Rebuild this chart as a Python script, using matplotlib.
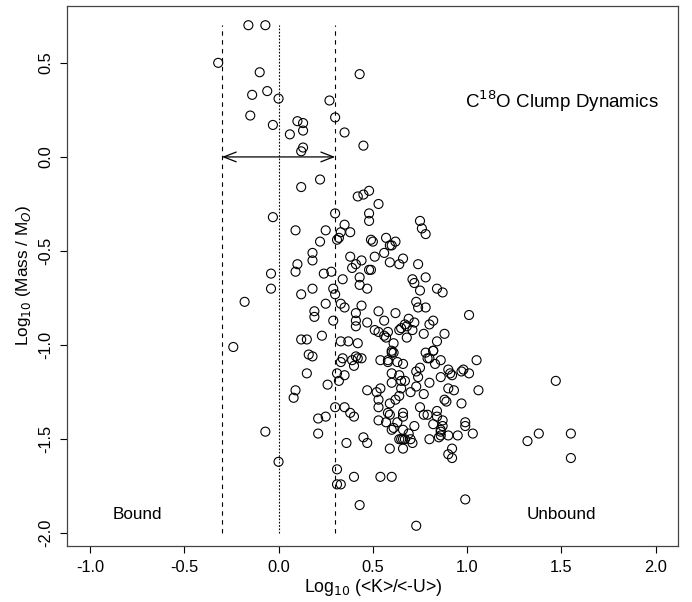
import numpy as np
import matplotlib
matplotlib.use('Agg')
import matplotlib.pyplot as plt

plt.rcParams['font.family'] = ['Liberation Sans', 'DejaVu Sans']

# log10(<K>/<-U>) and log10(mass) for each clump
logKU = [
    -0.16, -0.07, -0.32, -0.10, 0.43, -0.14, -0.06, 0.00, 0.27, -0.15,
    0.30, -0.03, 0.10, 0.13, 0.13, 0.06, 0.35, 0.13, 0.12, 0.45,
    0.22, 0.12, 0.48, 0.45, 0.42, 0.53, 0.30, 0.48, 0.48, -0.03,
    0.35, 0.09, 0.25, 0.38, 0.33, 0.32, 0.31, 0.22, 0.49, 0.50,
    0.57, 0.62, 0.59, 0.60, 0.18, 0.18, 0.38, 0.51, 0.56, 0.41,
    0.44, 0.39, 0.48, 0.49, 0.59, 0.64, 0.10, 0.09, -0.04, 0.24,
    0.28, 0.34, 0.43, 0.43, 0.47, -0.04, 0.18, 0.29, 0.30, 0.12,
    -0.18, 0.25, 0.33, 0.35, 0.44, 0.53, 0.62, 0.19, 0.19, 0.41,
    0.41, 0.29, 0.47, 0.56, 0.41, 0.51, 0.53, 0.58, 0.56, 0.57,
    0.64, 0.23, 0.12, 0.15, 0.33, 0.37, 0.42, 0.61, -0.24, 0.60,
    0.75, 0.76, 0.78, 0.66, 0.74, 0.71, 0.72, 0.78, 0.75, 0.84,
    0.87, 0.73, 0.74, 0.78, 1.01, 0.69, 0.82, 0.80, 0.72, 0.67,
    0.68, 0.65, 0.71, 0.77, 0.88, 0.84, 0.68, 0.82,
    0.16, 0.18, 0.33, 0.34, 0.39, 0.41, 0.42, 0.44, 0.40, 0.15,
    0.31, 0.35, 0.32, 0.26, 0.09, 0.08, 0.47, 0.54, 0.52, 0.53,
    0.60, 0.60, 0.54, 0.58, 0.58, 0.60, 0.61, 0.30, 0.35, 0.38,
    0.40, 0.21, 0.25, 0.53, 0.58, 0.59, 0.59, 0.53, 0.57, 0.63,
    0.60, 0.61, -0.07, 0.21, 0.36, 0.45, 0.47, 0.59, 0.64, 0.00,
    0.31, 0.40, 0.54, 0.60, 0.31, 0.33, 0.43,
    0.63, 0.66, 0.78, 0.82, 0.79, 0.80, 0.83, 0.86, 1.05, 0.75,
    0.73, 0.90, 0.91, 0.92, 0.97, 0.98, 1.01, 0.64, 0.65, 0.67,
    0.74, 0.86, 0.80, 0.73, 0.90, 0.93, 1.06, 0.65, 0.70, 0.77,
    0.64, 0.62, 0.88, 0.89, 0.97, 0.75, 0.77, 0.79, 0.84, 0.84,
    0.87, 0.66, 0.66, 0.82, 0.87, 0.86, 0.86, 0.86, 0.99, 0.99,
    1.03, 0.95, 0.90, 0.85, 0.80, 0.72, 0.66, 0.69, 0.65, 0.66,
    0.67, 0.70, 0.71, 0.66, 0.92, 0.90, 0.92, 1.32, 0.99, 0.73,
    1.47, 1.38, 1.55, 1.55,
]
logM = [
    0.70, 0.70, 0.50, 0.45, 0.44, 0.33, 0.35, 0.31, 0.30, 0.22,
    0.21, 0.17, 0.19, 0.18, 0.14, 0.12, 0.13, 0.05, 0.03, 0.06,
    -0.12, -0.16, -0.18, -0.20, -0.21, -0.25, -0.30, -0.30, -0.34, -0.32,
    -0.36, -0.39, -0.39, -0.40, -0.40, -0.43, -0.44, -0.45, -0.44, -0.45,
    -0.43, -0.45, -0.47, -0.47, -0.51, -0.55, -0.53, -0.53, -0.51, -0.57,
    -0.55, -0.59, -0.60, -0.60, -0.56, -0.57, -0.57, -0.61, -0.62, -0.62,
    -0.61, -0.65, -0.64, -0.68, -0.70, -0.70, -0.70, -0.70, -0.73, -0.73,
    -0.77, -0.78, -0.78, -0.80, -0.79, -0.82, -0.83, -0.82, -0.85, -0.83,
    -0.87, -0.87, -0.88, -0.87, -0.90, -0.92, -0.93, -0.93, -0.95, -0.96,
    -0.92, -0.95, -0.97, -0.97, -0.98, -0.98, -0.99, -0.99, -1.01, -1.03,
    -0.34, -0.38, -0.41, -0.54, -0.57, -0.65, -0.67, -0.64, -0.71, -0.70,
    -0.72, -0.77, -0.80, -0.80, -0.84, -0.86, -0.87, -0.89, -0.88, -0.89,
    -0.90, -0.91, -0.92, -0.94, -0.94, -0.98, -0.96, -1.03,
    -1.05, -1.06, -1.09, -1.07, -1.08, -1.06, -1.07, -1.07, -1.11, -1.15,
    -1.15, -1.16, -1.19, -1.21, -1.24, -1.28, -1.24, -1.23, -1.25, -1.29,
    -1.20, -1.15, -1.08, -1.09, -1.08, -1.04, -1.04, -1.33, -1.33, -1.36,
    -1.38, -1.39, -1.38, -1.33, -1.36, -1.37, -1.31, -1.40, -1.41, -1.41,
    -1.45, -1.44, -1.46, -1.47, -1.52, -1.49, -1.52, -1.55, -1.50, -1.62,
    -1.66, -1.70, -1.70, -1.70, -1.74, -1.74, -1.85,
    -1.09, -1.10, -1.04, -1.03, -1.07, -1.07, -1.10, -1.08, -1.08, -1.12,
    -1.14, -1.13, -1.15, -1.16, -1.14, -1.13, -1.15, -1.16, -1.19, -1.19,
    -1.17, -1.17, -1.20, -1.22, -1.23, -1.24, -1.24, -1.23, -1.25, -1.26,
    -1.27, -1.29, -1.29, -1.30, -1.31, -1.33, -1.37, -1.37, -1.35, -1.38,
    -1.40, -1.36, -1.38, -1.42, -1.43, -1.45, -1.46, -1.48, -1.41, -1.43,
    -1.47, -1.48, -1.48, -1.49, -1.50, -1.43, -1.45, -1.47, -1.50, -1.50,
    -1.50, -1.50, -1.52, -1.55, -1.55, -1.58, -1.60, -1.51, -1.82, -1.96,
    -1.19, -1.47, -1.47, -1.60,
]

xticks = [-1.0, -0.5, 0.0, 0.5, 1.0, 1.5, 2.0]
yticks = [-2.0, -1.5, -1.0, -0.5, 0.0, 0.5]
bound_lines = [-0.3, 0.3]

fig = plt.figure(figsize=(6.92, 6.02), dpi=100)
ax = fig.add_axes([0.0973, 0.0935, 0.883, 0.8965])

ax.scatter(logKU, logM, s=42, facecolors='none', edgecolors='black', linewidths=0.8)

for xv in bound_lines:
    ax.plot([xv, xv], [-2.0, 0.70], color='black', lw=0.8, ls=(0, (4, 4)))
ax.plot([0, 0], [-2.0, 0.70], color='black', lw=0.8, ls=(0, (1.5, 1.5)))
ax.annotate('', xy=(-0.3, 0.0), xytext=(0.3, 0.0),
            arrowprops=dict(arrowstyle='<->,head_length=0.9,head_width=0.35', color='black', lw=0.9,
                            shrinkA=0, shrinkB=0))

ax.text(-0.75, -1.90, 'Bound', ha='center', va='center', fontsize=12.3)
ax.text(1.50, -1.90, 'Unbound', ha='center', va='center', fontsize=12.3)
ax.text(1.50, 0.295, r'C$^{18}$O Clump Dynamics', ha='center', va='center', fontsize=13.5)

ax.set_xlim(-1.12, 2.12)
ax.set_ylim(-2.066, 0.802)
ax.set_xticks(xticks)
ax.set_xticklabels(['%.1f' % v for v in xticks], fontsize=11.8)
ax.set_yticks(yticks)
ax.set_yticklabels(['%.1f' % v for v in yticks], fontsize=11.8, rotation=90, va='center')
ax.tick_params(direction='out', length=5, width=0.8, pad=5)
ax.set_xlabel(r'Log$_{10}$ (<K>/<-U>)', fontsize=12.7, labelpad=2)
ax.set_ylabel(r'Log$_{10}$ (Mass / M$_{O}$)', fontsize=12.3)
for sp in ax.spines.values():
    sp.set_color('#444444')
    sp.set_linewidth(0.9)

fig.savefig('out.png', dpi=100)
